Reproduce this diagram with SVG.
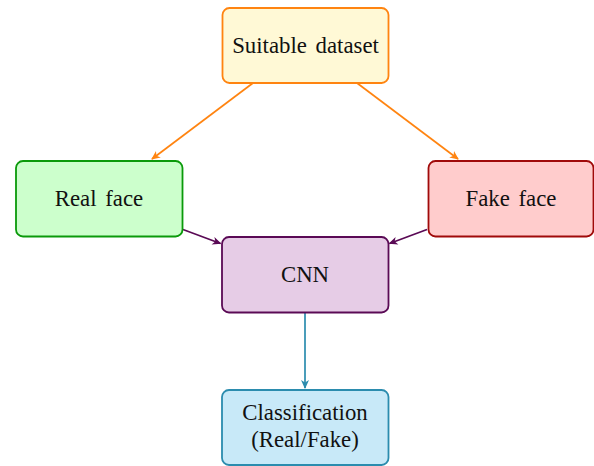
<svg xmlns="http://www.w3.org/2000/svg" width="594" height="466" viewBox="0 0 594 466">
<style>
.box{stroke-width:1.8}
.t{font-family:"Liberation Serif","Times New Roman",serif;font-size:22.8px;fill:#111;text-anchor:middle;word-spacing:3px}
.c{fill:none;stroke-width:1.7}
</style>
<defs>
<marker id="aO" markerUnits="userSpaceOnUse" markerWidth="12" markerHeight="10" viewBox="-10 -5 12 10" refX="0" refY="0" orient="auto"><path d="M1,0 L-8,-4 L-5.5,0 L-8,4 Z" fill="#FF8410"/></marker>
<marker id="aP" markerUnits="userSpaceOnUse" markerWidth="12" markerHeight="10" viewBox="-10 -5 12 10" refX="0" refY="0" orient="auto"><path d="M1,0 L-8,-4 L-5.5,0 L-8,4 Z" fill="#5A0A55"/></marker>
<marker id="aC" markerUnits="userSpaceOnUse" markerWidth="12" markerHeight="10" viewBox="-10 -5 12 10" refX="0" refY="0" orient="auto"><path d="M1,0 L-8,-4 L-5.5,0 L-8,4 Z" fill="#2B8CAE"/></marker>
</defs>
<g id="connectors">
<line class="c" x1="253" y1="83" x2="152" y2="159" stroke="#FF8410" marker-end="url(#aO)"/>
<line class="c" x1="357" y1="83" x2="458" y2="159" stroke="#FF8410" marker-end="url(#aO)"/>
<line class="c" x1="183" y1="229.5" x2="220.5" y2="243.5" stroke="#5A0A55" marker-end="url(#aP)"/>
<line class="c" x1="427" y1="229.5" x2="389.5" y2="243.5" stroke="#5A0A55" marker-end="url(#aP)"/>
<line class="c" x1="305" y1="312.5" x2="305" y2="388" stroke="#2B8CAE" marker-end="url(#aC)"/>
</g>
<g id="dataset">
<rect class="box" x="222.5" y="8" width="166" height="75" rx="7" fill="#FFF9D6" stroke="#FF8410"/>
<text class="t" x="305.5" y="53">Suitable dataset</text>
</g>
<g id="real">
<rect class="box" x="16" y="161" width="166.5" height="75.5" rx="7" fill="#CCFFCC" stroke="#0A9A0A"/>
<text class="t" x="99" y="206">Real face</text>
</g>
<g id="fake">
<rect class="box" x="428.5" y="161" width="165" height="75.5" rx="7" fill="#FFCCCC" stroke="#A00A0A"/>
<text class="t" x="511" y="206">Fake face</text>
</g>
<g id="cnn">
<rect class="box" x="222" y="237" width="166.5" height="75.5" rx="7" fill="#E6CCE6" stroke="#5A0A55"/>
<text class="t" x="305" y="282">CNN</text>
</g>
<g id="classification">
<rect class="box" x="222" y="390" width="166.5" height="75" rx="7" fill="#C8E9F8" stroke="#2B8CAE"/>
<text class="t" x="305" y="420">Classification</text>
<text class="t" x="305" y="446.5">(Real/Fake)</text>
</g>
</svg>
